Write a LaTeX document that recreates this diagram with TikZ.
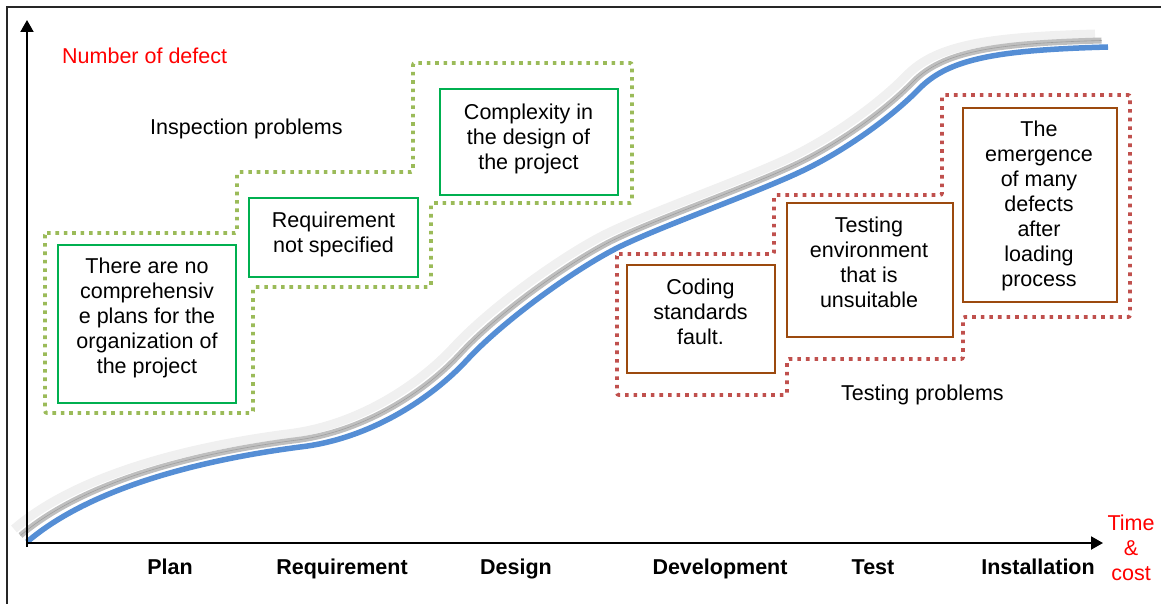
\documentclass[tikz,border=0pt]{standalone}
\usepackage{fontspec}
\setmainfont{Liberation Sans}
\usetikzlibrary{arrows.meta}
\definecolor{dotgreen}{HTML}{9BBB59}
\definecolor{boxgreen}{HTML}{00B050}
\definecolor{dotred}{HTML}{C0504D}
\definecolor{boxbrown}{HTML}{9C4A0E}
\definecolor{curveblue}{HTML}{558ED5}
\definecolor{labelred}{HTML}{FF0000}
\newcommand\defectcurve{(27,542) .. controls (90,488) and (200,460) .. (300,447) .. controls (370,439) and (432,398) .. (467,360) .. controls (502,322) and (572,271) .. (617,248) .. controls (660,226.5) and (752,194.5) .. (800,172) .. controls (845,151) and (893,116) .. (920,88) .. controls (950,58) and (1000,50) .. (1108,47)}
\begin{document}
\begin{tikzpicture}[x=1pt,y=-1pt,
  every node/.style={font=\fontsize{21.5}{25}\selectfont, inner sep=0pt},
  txt/.style={align=center},
  gbox/.style={draw=boxgreen, line width=2pt, minimum width=#1},
  bbox/.style={draw=boxbrown, line width=2pt, minimum width=#1},
  gdots/.style={draw=dotgreen, line width=3.8pt, dash pattern=on 3.6pt off 4.8pt, rounded corners=2pt},
  rdots/.style={draw=dotred, line width=3.8pt, dash pattern=on 3.6pt off 5pt, rounded corners=2pt},
  axisline/.style={line width=2pt, -{Triangle[length=12pt,width=13pt]}},
  phase/.style={font=\fontsize{21.5}{25}\selectfont\bfseries, anchor=base},
  lightband/.style={draw=gray!12, line width=9pt},
  darkband/.style={draw=gray!50, line width=6pt},
  bandline/.style={draw=gray!75, line width=0.6pt},
  mainline/.style={draw=curveblue, line width=5.5pt},
]
\useasboundingbox (0,0) rectangle (1161,604);
% frame
\draw[line width=1.3pt, black!85] (7,606) -- (7,7) -- (1163,7);

% curve with shadow bands
\begin{scope}[shift={(-13,-13)}]
  \draw[lightband] \defectcurve;
\end{scope}
\begin{scope}[shift={(-6.5,-6.5)}]
  \draw[darkband] \defectcurve;
  \draw[bandline] \defectcurve;
\end{scope}
\draw[mainline] \defectcurve;

% axes
\coordinate (O) at (27,543);
\coordinate (ybot) at (27,547);
\coordinate (ytip) at (27,20);
\coordinate (xtip) at (1103,543);
\draw[axisline] (ybot) -- (ytip);
\draw[axisline] (O) -- (xtip);

% dotted outlines
\draw[gdots] (45,233) -- (237,233) -- (237,172) -- (413,172) -- (413,63) -- (632,63) -- (632,203) -- (431,203) -- (431,287) -- (253,287) -- (253,413) -- (45,413) -- cycle;
\draw[rdots] (617,254) -- (774,254) -- (774,195) -- (942,195) -- (942,95) -- (1130,95) -- (1130,317) -- (963,317) -- (963,359) -- (787,359) -- (787,395) -- (617,395) -- cycle;

% green boxes
\node[gbox=178pt, minimum height=158pt] (b1) at (147,324) {};
\node[gbox=169pt, minimum height=79pt] (b2) at (333.5,237.5) {};
\node[gbox=178pt, minimum height=106pt] (b3) at (529,142) {};
\node[txt] (t1) at (147,318) {There are no\\comprehensiv\\e plans for the\\organization of\\the project};
\node[txt] (t2) at (333.5,234.5) {Requirement\\not specified};
\node[txt] (t3) at (528.5,138.5) {Complexity in\\the design of\\the project};

% brown boxes
\node[bbox=148pt, minimum height=108pt] (c1) at (701,319) {};
\node[bbox=166pt, minimum height=134pt] (c2) at (870,270) {};
\node[bbox=154pt, minimum height=194pt] (c3) at (1040,205) {};
\node[txt] (u1) at (700.5,311.5) {Coding\\standards\\fault.};
\node[txt] (u2) at (869,262.5) {Testing\\environment\\that is\\unsuitable};
\node[txt] (u3) at (1039,206) {The\\emergence\\of many\\defects\\after\\loading\\process};

% labels
\node[anchor=base west, text=labelred] (ylab) at (62,64) {Number of defect};
\node[anchor=base west] (insp) at (150,135) {Inspection problems};
\node[anchor=base west] (testp) at (841,400) {Testing problems};
\node[txt, text=labelred] (xlab) at (1131,547.5) {Time\\\&\\cost};

% phases
\node[phase] (p1) at (170,574.5) {Plan};
\node[phase] (p2) at (342,574.5) {Requirement};
\node[phase] (p3) at (516,574.5) {Design};
\node[phase] (p4) at (720,574.5) {Development};
\node[phase] (p5) at (873,574.5) {Test};
\node[phase] (p6) at (1038,574.5) {Installation};
\end{tikzpicture}
\end{document}
